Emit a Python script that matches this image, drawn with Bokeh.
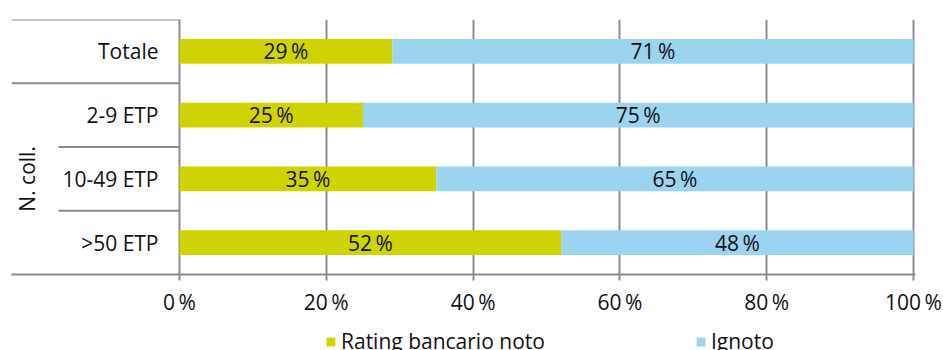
from math import pi

from bokeh.core.properties import value
from bokeh.embed import file_html
from bokeh.layouts import column
from bokeh.models import (ColumnDataSource, FactorRange, FixedTicker, Legend,
                          LegendItem, Range1d)
from bokeh.plotting import figure
from bokeh.resources import INLINE

# --- data -----------------------------------------------------------------
categories = ["Totale", "2-9 ETP", "10-49 ETP", ">50 ETP"]
rating_noto = [29, 25, 35, 52]
ignoto = [71, 75, 65, 48]
series_names = ["Rating bancario noto", "Ignoto"]
tick_values = [0, 20, 40, 60, 80, 100]
tick_labels = ["0\u2009%", "20\u2009%", "40\u2009%", "60\u2009%", "80\u2009%", "100\u2009%"]
group_label = "N. coll."
grouped = ["2-9 ETP", "10-49 ETP", ">50 ETP"]

# --- style ----------------------------------------------------------------
GREEN = "#CFD400"
BLUE = "#9CD4F0"
GRID = "#8C8C8C"
INK = "#111111"
FONT = "Open Sans"
FS = "21px"

W = 943
H_CHART, H_LEGEND = 326, 24
LEFT, RIGHT, TOP, BOTTOM = 11, 28, 19, 52
PX_PER_UNIT = 7.34  # horizontal scale of the value axis
x_start = -168 / PX_PER_UNIT           # room for the category labels
x_end = 100 + 2 / PX_PER_UNIT
x_inner = -121 / PX_PER_UNIT           # start of the separators inside the group

src = ColumnDataSource(dict(
    cat=categories,
    rating=rating_noto,
    ignoto=ignoto,
    rating_mid=[r / 2 for r in rating_noto],
    ignoto_mid=[r + i / 2 for r, i in zip(rating_noto, ignoto)],
    rating_txt=[f"{v}\u2009%" for v in rating_noto],
    ignoto_txt=[f"{v}\u2009%" for v in ignoto],
))

p = figure(width=W, height=H_CHART,
           x_range=Range1d(x_start, x_end),
           y_range=FactorRange(factors=list(reversed(categories)), range_padding=0),
           y_axis_location=None,
           output_backend="svg", toolbar_location=None,
           min_border_left=LEFT, min_border_right=RIGHT,
           min_border_top=TOP, min_border_bottom=BOTTOM)
p.outline_line_color = None
p.background_fill_color = "white"
p.border_fill_color = "white"

# grid: vertical lines only, at the percentage ticks
p.ygrid.visible = False
p.xgrid.ticker = FixedTicker(ticks=tick_values)
p.xgrid.grid_line_color = GRID
p.xgrid.grid_line_width = 2

# x axis
ax = p.xaxis[0]
ax.ticker = FixedTicker(ticks=tick_values, minor_ticks=[])
ax.major_label_overrides = dict(zip(tick_values, tick_labels))
ax.axis_line_color = GRID
ax.axis_line_width = 2
ax.major_tick_line_color = GRID
ax.major_tick_line_width = 2
ax.major_tick_in = 0
ax.major_tick_out = 6
ax.minor_tick_line_color = None
ax.major_label_text_font = FONT
ax.major_label_text_font_size = FS
ax.major_label_text_color = INK
ax.major_label_standoff = 7

# stacked bars
p.hbar_stack(["rating", "ignoto"], y="cat", height=0.39,
             color=[GREEN, BLUE], line_color=None, source=src)

# value labels centred in each segment
for xcol, tcol in (("rating_mid", "rating_txt"), ("ignoto_mid", "ignoto_txt")):
    p.text(x=xcol, y="cat", text=tcol, source=src,
           text_font=value(FONT), text_font_size=FS, text_color=INK,
           text_align="center", text_baseline="middle")

# category labels to the left of the value axis
p.text(x=[0] * len(categories), y=categories, text=categories,
       x_offset=-21, text_font=value(FONT), text_font_size=FS,
       text_color=INK, text_align="right", text_baseline="middle")

# separators of the category column
sep_x0 = [x_start, x_start, x_inner, x_inner]
sep_y = [(categories[0], 0.5), (categories[0], -0.5),
         (categories[1], -0.5), (categories[2], -0.5)]
p.segment(x0=sep_x0, y0=sep_y, x1=[0] * 4, y1=sep_y,
          line_color=GRID, line_width=2)

# group label, rotated, beside the grouped categories
p.text(x=[0], y=[grouped[1]], text=[group_label], x_offset=-153, angle=pi / 2,
       text_font=value(FONT), text_font_size=FS, text_color=INK,
       text_align="center", text_baseline="middle")

# --- legend strip under the chart -------------------------------------------
# zero-height copies of the series only carry the legend swatches
lg = figure(width=W, height=H_LEGEND,
            x_range=Range1d(0, 100), y_range=FactorRange(factors=categories),
            x_axis_location=None, y_axis_location=None,
            output_backend="svg", toolbar_location=None,
            min_border=0)
lg.outline_line_color = None
lg.background_fill_color = "white"
lg.border_fill_color = "white"
lg.xgrid.visible = False
lg.ygrid.visible = False
keys = lg.hbar_stack(["rating", "ignoto"], y="cat", height=0,
                     color=[GREEN, BLUE], line_color=None, source=src)

legend = Legend(items=[LegendItem(label=n, renderers=[r]) for n, r in zip(series_names, keys)],
                orientation="horizontal", location=(314, -5),
                glyph_width=11, glyph_height=11, label_standoff=5,
                spacing=150, padding=0, margin=0,
                border_line_color=None, background_fill_alpha=0,
                label_text_font=FONT, label_text_font_size=FS,
                label_text_color=INK, label_height=20)
lg.add_layout(legend, "center")

layout = column(p, lg, spacing=0)
open("out.html", "w").write(file_html(layout, INLINE))
